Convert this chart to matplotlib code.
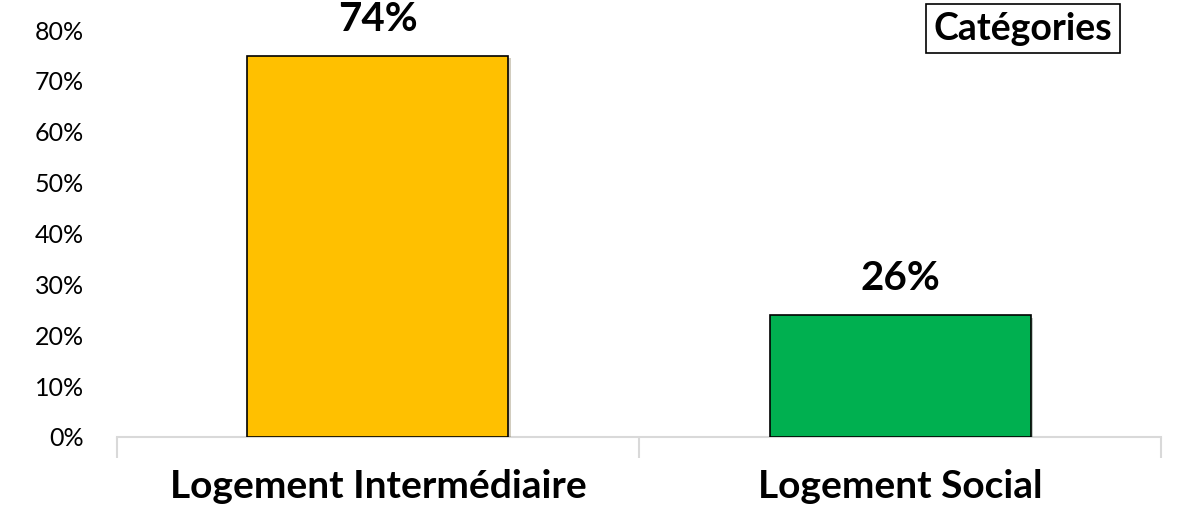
import matplotlib.pyplot as plt
import matplotlib.patheffects as pe

categories = ['Logement Intermédiaire', 'Logement Social']
shares = [0.75, 0.24]
share_labels = ['74%', '26%']
colors = ['#FFC000', '#00B050']
y_ticks = [0, 0.1, 0.2, 0.3, 0.4, 0.5, 0.6, 0.7, 0.8]

plt.rcParams['font.family'] = ['Lato', 'DejaVu Sans']

fig = plt.figure(figsize=(11.78, 5.19), dpi=100)
ax = fig.add_axes([0.0993, 0.158, 0.8863, 0.784])

x = range(len(categories))
bars = ax.bar(x, shares, width=0.5, color=colors, edgecolor='black', linewidth=1.2, zorder=3)
for b in bars:
    b.set_path_effects([pe.SimplePatchShadow(offset=(2, -2), alpha=0.25), pe.Normal()])

for b, lab in zip(bars, share_labels):
    ax.annotate(lab, (b.get_x() + b.get_width() / 2, b.get_height()),
                xytext=(0, 26), textcoords='offset points', ha='center', va='center',
                fontsize=29, fontweight='bold', annotation_clip=False)

ax.set_xlim(-0.5, 1.5)
ax.set_ylim(0, 0.8)
ax.set_yticks(y_ticks)
ax.set_yticklabels([f'{int(round(t * 100))}%' for t in y_ticks], fontsize=18)
ax.tick_params(axis='y', length=0, pad=24)

ax.set_xticks(list(x))
ax.set_xticklabels(categories, fontsize=28, fontweight='bold')
ax.set_xticks([-0.5, 0.5, 1.5], minor=True)
ax.tick_params(axis='x', which='major', length=0, pad=23)
ax.tick_params(axis='x', which='minor', length=15, color='#d9d9d9', width=1.5)

for s in ['top', 'right', 'left']:
    ax.spines[s].set_visible(False)
ax.spines['bottom'].set_color('#d9d9d9')
ax.spines['bottom'].set_linewidth(1.5)

fig.text(0.8685, 0.945, 'Catégories', ha='center', va='center', fontsize=27, fontweight='bold',
         bbox=dict(boxstyle='square,pad=0.2', facecolor='white', edgecolor='black', linewidth=1.2))

plt.savefig('out.png', dpi=100)
